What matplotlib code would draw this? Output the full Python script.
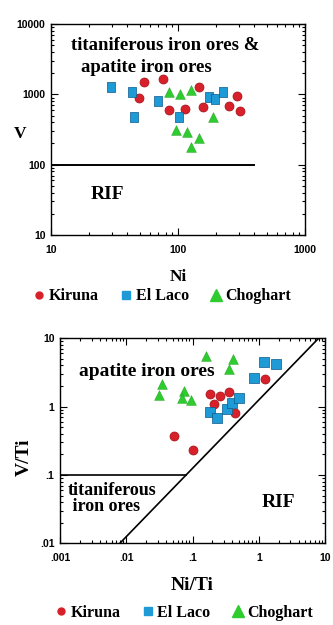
import matplotlib
matplotlib.use("Agg")
import matplotlib.pyplot as plt
from matplotlib.ticker import LogLocator, NullFormatter, FixedLocator, FixedFormatter

# --- datos: V vs Ni (ppm) ---
kiruna_ni = [53.7, 49.3, 76.6, 85.4, 114, 147, 156, 252, 292, 310]
kiruna_v = [1510, 877, 1634, 599, 618, 1283, 653, 689, 957, 580]
laco_ni = [29.7, 43.2, 45.3, 69.7, 102, 175, 196, 225]
laco_v = [1283, 1067, 471, 794, 481, 925, 849, 1067]
chog_ni = [85, 104, 126, 96, 118, 147, 126, 190]
chog_v = [1080, 1010, 1150, 311, 291, 237, 180, 481]

# --- datos: V/Ti vs Ni/Ti ---
kiruna_niti = [0.181, 0.257, 0.36, 0.211, 0.438, 1.24, 0.0526, 0.1]
kiruna_vti = [1.51, 1.43, 1.65, 1.09, 0.815, 2.56, 0.371, 0.231]
laco_niti = [1.21, 1.8, 0.85, 0.181, 0.232, 0.328, 0.399, 0.508]
laco_vti = [4.5, 4.16, 2.62, 0.834, 0.674, 0.912, 1.14, 1.35]
chog_niti = [0.16, 0.405, 0.36, 0.0347, 0.031, 0.075, 0.0687, 0.095]
chog_vti = [5.5, 4.93, 3.56, 2.12, 1.47, 1.71, 1.32, 1.25]

# limites de campos
rif_v = 100
rif_ni_max = 400
diag_x = [0.008, 8]
diag_y = [0.01, 10]

rojo = "#d8202a"
azul = "#1e9ad6"
verde = "#2ecc2e"
serif = "Liberation Serif"
sans = "Liberation Sans"
# rectangulo alto para El Laco en el grafico superior
rect_alto = [(-0.72, -1), (0.72, -1), (0.72, 1), (-0.72, 1), (-0.72, -1)]

fig = plt.figure(figsize=(3.33, 6.25), dpi=100)


def estilo_ejes(ax, xticks, xlabels, yticks, ylabels):
    ax.set_xscale("log")
    ax.set_yscale("log")
    ax.xaxis.set_major_locator(FixedLocator(xticks))
    ax.xaxis.set_major_formatter(FixedFormatter(xlabels))
    ax.yaxis.set_major_locator(FixedLocator(yticks))
    ax.yaxis.set_major_formatter(FixedFormatter(ylabels))
    for eje in (ax.xaxis, ax.yaxis):
        eje.set_minor_locator(LogLocator(base=10, subs=range(2, 10)))
        eje.set_minor_formatter(NullFormatter())
    ax.tick_params(which="both", direction="in", top=True, right=True,
                   width=0.8, labelsize=7.5)
    ax.tick_params(axis="x", pad=7)
    ax.tick_params(axis="y", pad=4)
    ax.tick_params(which="major", length=5)
    ax.tick_params(which="minor", length=2.5)
    for lab in ax.get_xticklabels() + ax.get_yticklabels():
        lab.set_fontfamily(sans)
        lab.set_fontweight("bold")
    for s in ax.spines.values():
        s.set_linewidth(1.0)


def leyenda(ax, x, y):
    h1, = ax.plot([], [], "o", color=rojo, markersize=5, label="Kiruna")
    h2, = ax.plot([], [], "s", color=azul, markersize=5.5, label="El Laco")
    h3, = ax.plot([], [], "^", color=verde, markersize=9, label="Choghart")
    ax.legend(handles=[h1, h2, h3], loc="center", bbox_to_anchor=(x, y),
              ncol=3, frameon=False, handlelength=0.6, handletextpad=0.3,
              columnspacing=1.4, borderpad=0,
              prop={"family": serif, "weight": "bold", "size": 11.5})


# ---------- grafico superior ----------
ax1 = fig.add_axes([51 / 333, 1 - 235 / 625, 254 / 333, 211 / 625])
ax1.set_xlim(10, 1000)
ax1.set_ylim(10, 10000)
ax1.plot([10, rif_ni_max], [rif_v, rif_v], color="black", lw=1.4)
ax1.scatter(kiruna_ni, kiruna_v, marker="o", s=42, color=rojo, edgecolors="#a01018", linewidths=0.5, zorder=3)
ax1.scatter(laco_ni, laco_v, marker=rect_alto, s=55, color=azul, edgecolors="#0a5a8a", linewidths=0.5, zorder=3)
ax1.scatter(chog_ni, chog_v, marker="^", s=50, color=verde, edgecolors="#1a9a1a", linewidths=0.3, zorder=3)
estilo_ejes(ax1, [10, 100, 1000], ["10", "100", "1000"],
            [10, 100, 1000, 10000], ["10", "100", "1000", "10000"])
ax1.text(0.08, 0.90, "titaniferous iron ores &", transform=ax1.transAxes,
         fontfamily=serif, fontweight="bold", fontsize=13.5, va="center")
ax1.text(0.118, 0.796, "apatite iron ores", transform=ax1.transAxes,
         fontfamily=serif, fontweight="bold", fontsize=13.5, va="center")
ax1.text(20.5, 38, "RIF", fontfamily=serif, fontweight="bold", fontsize=14, va="center")
ax1.set_xlabel("Ni", fontfamily=serif, fontweight="bold", fontsize=12.5, labelpad=10)
ax1.set_ylabel("V", fontfamily=serif, fontweight="bold", fontsize=12.5, rotation=0, va="center")
ax1.yaxis.set_label_coords(-0.12, 0.48)
leyenda(ax1, 0.44, -0.29)

# ---------- grafico inferior ----------
ax2 = fig.add_axes([60 / 333, 1 - 543.3 / 625, 265 / 333, 205 / 625])
ax2.set_xlim(0.001, 10)
ax2.set_ylim(0.01, 10)
ax2.plot([0.001, 0.08], [0.1, 0.1], color="black", lw=1.2)
ax2.plot(diag_x, diag_y, color="black", lw=1.2)
ax2.scatter(kiruna_niti, kiruna_vti, marker="o", s=42, color=rojo, edgecolors="#a01018", linewidths=0.5, zorder=3)
ax2.scatter(laco_niti, laco_vti, marker="s", s=42, color=azul, edgecolors="#0a5a8a", linewidths=0.5, zorder=3)
ax2.scatter(chog_niti, chog_vti, marker="^", s=50, color=verde, edgecolors="#1a9a1a", linewidths=0.3, zorder=3)
estilo_ejes(ax2, [0.001, 0.01, 0.1, 1, 10], [".001", ".01", ".1", "1", "10"],
            [0.01, 0.1, 1, 10], [".01", ".1", "1", "10"])
ax2.text(0.07, 0.84, "apatite iron ores", transform=ax2.transAxes,
         fontfamily=serif, fontweight="bold", fontsize=14, va="center")
ax2.text(0.03, 0.22, "titaniferous\n iron ores", transform=ax2.transAxes,
         fontfamily=serif, fontweight="bold", fontsize=13, va="center", linespacing=0.95)
ax2.text(0.76, 0.2, "RIF", transform=ax2.transAxes,
         fontfamily=serif, fontweight="bold", fontsize=14, va="center")
ax2.set_xlabel("Ni/Ti", fontfamily=serif, fontweight="bold", fontsize=14, labelpad=10)
ax2.set_ylabel("V/Ti", fontfamily=serif, fontweight="bold", fontsize=14, va="center")
ax2.yaxis.set_label_coords(-0.135, 0.42)
leyenda(ax2, 0.47, -0.34)

fig.savefig("out.png", dpi=100)
